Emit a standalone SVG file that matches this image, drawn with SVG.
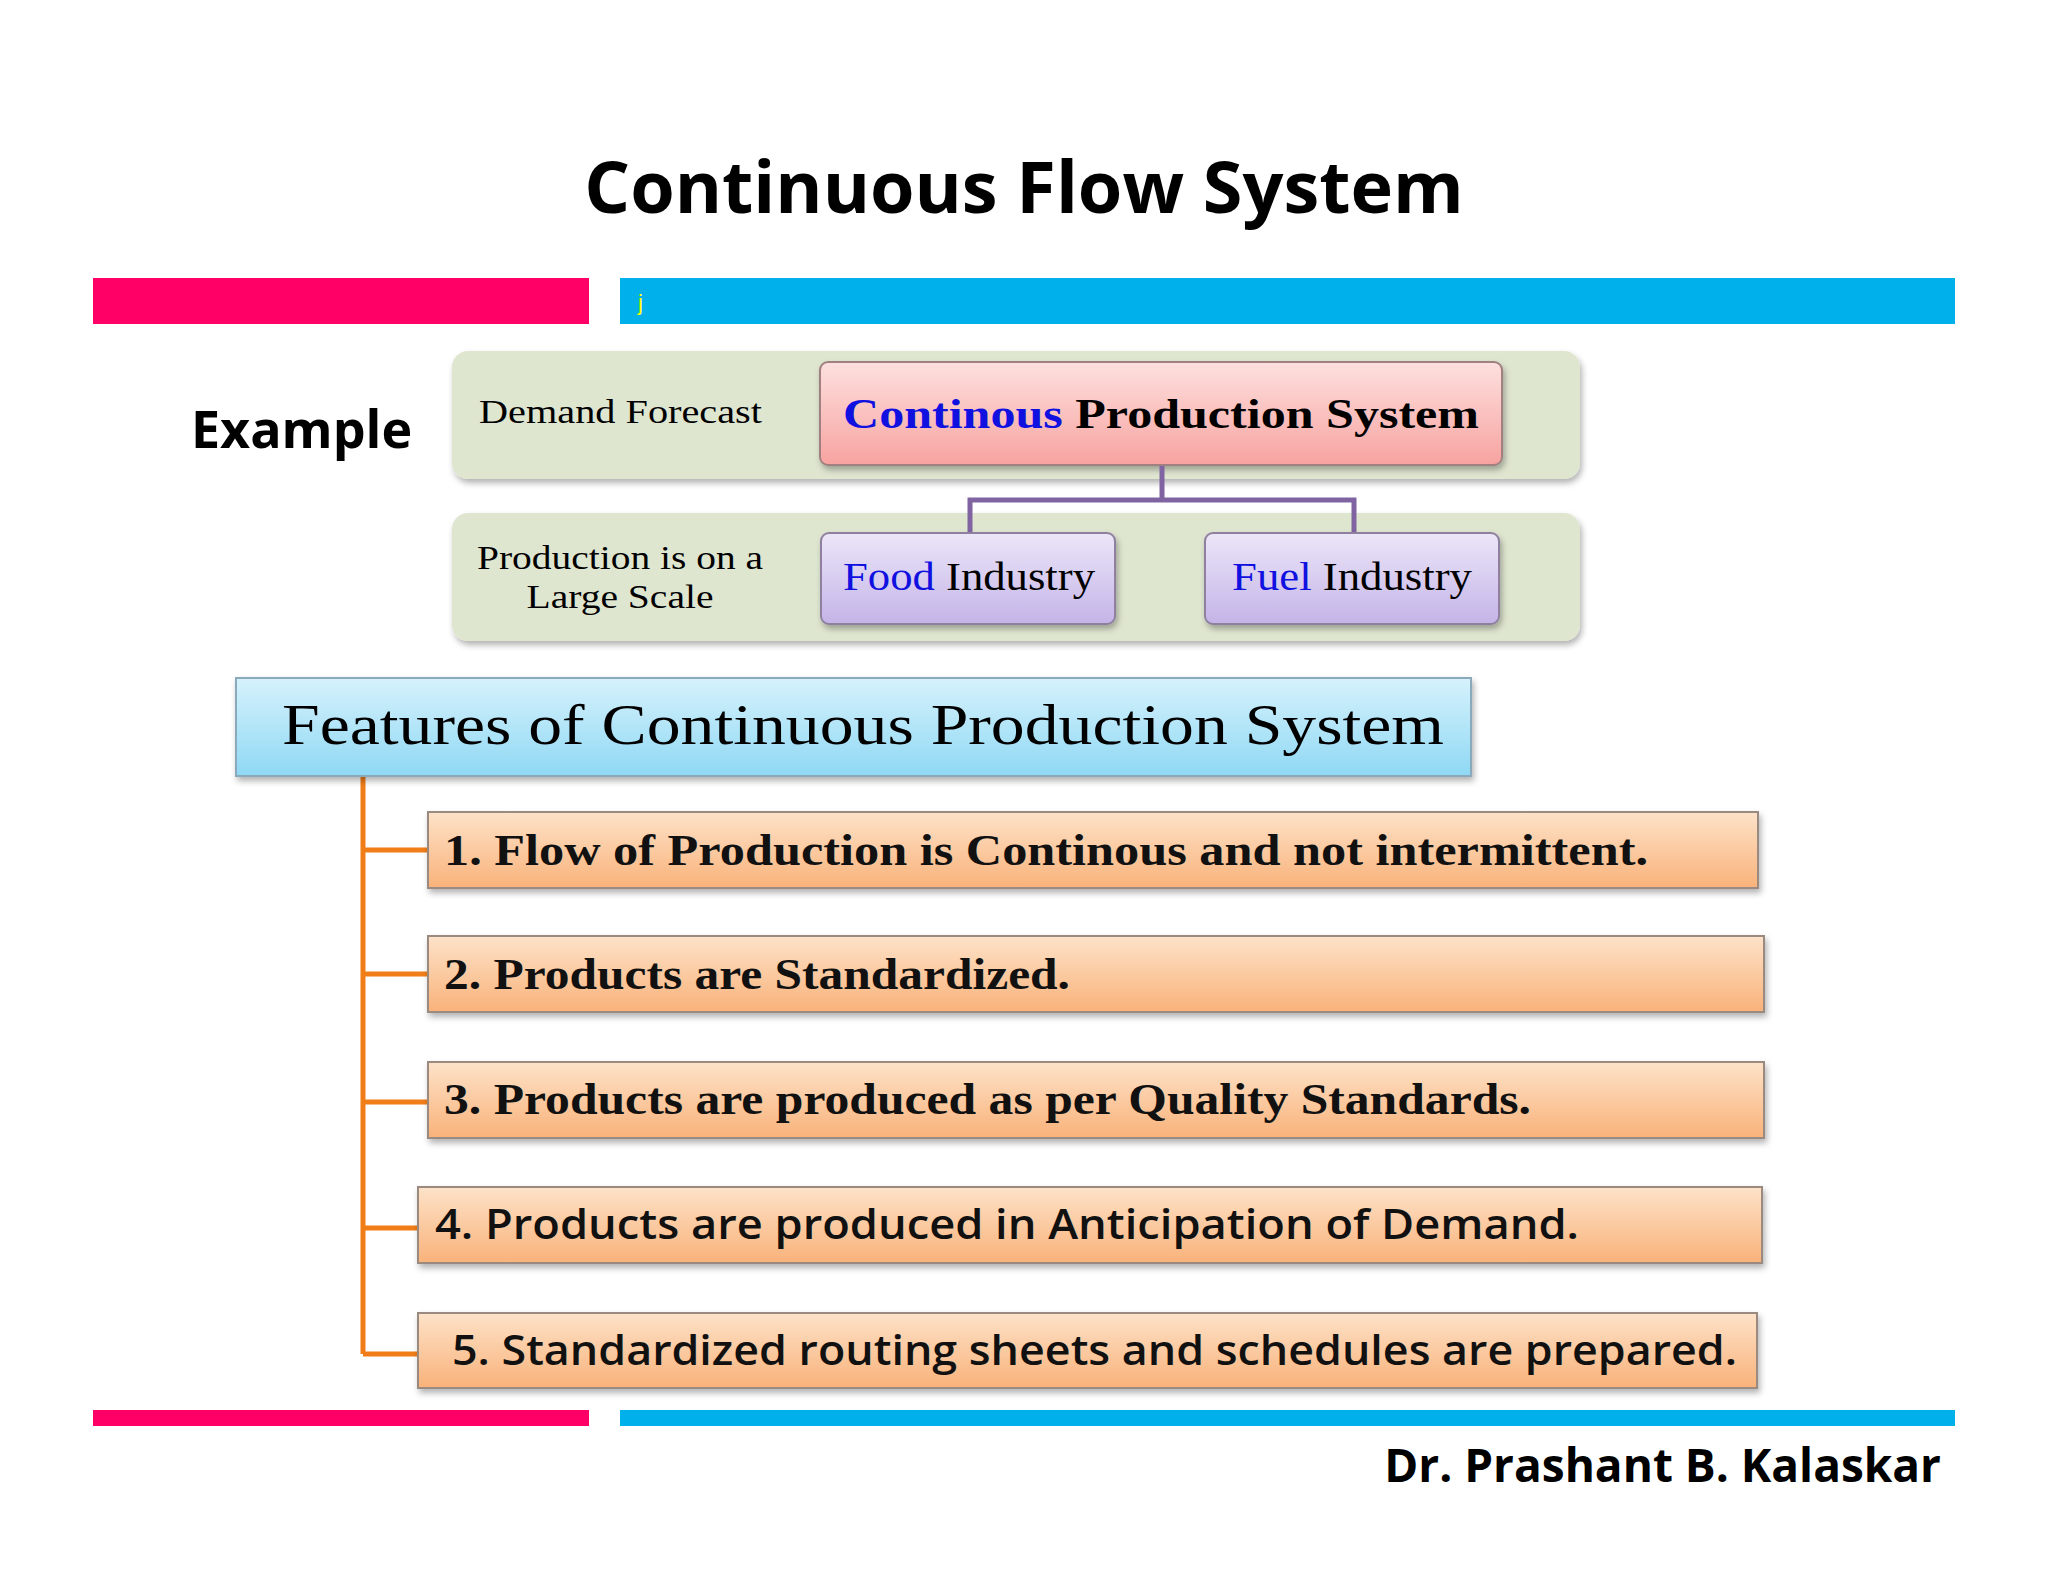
<svg xmlns="http://www.w3.org/2000/svg" width="2048" height="1582" viewBox="0 0 2048 1582">
<defs>
<linearGradient id="gPink" x1="0" y1="0" x2="0" y2="1"><stop offset="0" stop-color="#fde0de"/><stop offset="1" stop-color="#f7a3a0"/></linearGradient>
<linearGradient id="gPurp" x1="0" y1="0" x2="0" y2="1"><stop offset="0" stop-color="#ece6f8"/><stop offset="1" stop-color="#c4b4e8"/></linearGradient>
<linearGradient id="gBlue" x1="0" y1="0" x2="0" y2="1"><stop offset="0" stop-color="#d6f2fc"/><stop offset="1" stop-color="#8fd8f4"/></linearGradient>
<linearGradient id="gOr" x1="0" y1="0" x2="0" y2="1"><stop offset="0" stop-color="#fde2c8"/><stop offset="1" stop-color="#f9b27a"/></linearGradient>
<filter id="sh" x="-5%" y="-10%" width="110%" height="130%"><feDropShadow dx="2" dy="4" stdDeviation="3" flood-color="#000" flood-opacity="0.3"/></filter>
</defs>
<style>
.serif{font-family:"Liberation Serif","DejaVu Serif",serif;fill:#000}
.sans{font-family:"Open Sans","Liberation Sans",sans-serif;font-weight:bold;fill:#000}
.item{font-family:"Liberation Serif",serif;font-size:44px;font-weight:bold;fill:#111}
.item2{font-family:"Open Sans","Liberation Sans",sans-serif;font-size:42px;font-weight:600;fill:#111}
.obox{fill:url(#gOr);stroke:#9a8a80;stroke-width:2;filter:url(#sh)}
.conn{fill:none;stroke:#f07d18;stroke-width:5}
</style>
<rect width="2048" height="1582" fill="#fff"/>
<text class="sans" x="1024" y="213" font-size="72" text-anchor="middle">Continuous Flow System</text>
<rect x="93" y="278" width="496" height="46" fill="#ff0066"/>
<rect x="620" y="278" width="1335" height="46" fill="#00b0ea"/>
<text x="638" y="310" font-family="Liberation Sans,sans-serif" font-size="22" fill="#ffff00">j</text>
<rect x="93" y="1410" width="496" height="16" fill="#ff0066"/>
<rect x="620" y="1410" width="1335" height="16" fill="#00b0ea"/>
<text class="sans" x="191" y="448" font-size="52">Example</text>
<g id="row1"><rect x="452" y="351" width="1128" height="128" rx="16" fill="#dfe6d0" filter="url(#sh)"/>
<text class="serif" x="479" y="423" font-size="34" textLength="283" lengthAdjust="spacingAndGlyphs">Demand Forecast</text></g>
<g id="cps"><rect x="820" y="362" width="682" height="103" rx="8" fill="url(#gPink)" stroke="#a08080" stroke-width="2" filter="url(#sh)"/>
<text class="serif" x="843" y="428" font-size="43" font-weight="bold" textLength="636" lengthAdjust="spacingAndGlyphs"><tspan fill="#1010e0">Continous</tspan> Production System</text></g>
<g id="row2"><rect x="452" y="513" width="1128" height="128" rx="16" fill="#dfe6d0" filter="url(#sh)"/>
<text class="serif" x="620" y="569" font-size="34" text-anchor="middle" textLength="286" lengthAdjust="spacingAndGlyphs">Production is on a</text>
<text class="serif" x="620" y="608" font-size="34" text-anchor="middle" textLength="187" lengthAdjust="spacingAndGlyphs">Large Scale</text></g>
<g id="connectors">
<path d="M1162 466V500M970 533V500H1354V533" fill="none" stroke="#8064a2" stroke-width="5"/>
<path class="conn" d="M363 776V1354M363 850H428M363 974H428M363 1102H428M363 1228H418M363 1354H418"/>
</g>
<g id="food"><rect x="821" y="533" width="294" height="91" rx="8" fill="url(#gPurp)" stroke="#9080a0" stroke-width="2" filter="url(#sh)"/>
<text class="serif" x="843" y="590" font-size="40" textLength="252" lengthAdjust="spacingAndGlyphs"><tspan fill="#1010e0">Food</tspan> Industry</text></g>
<g id="fuel"><rect x="1205" y="533" width="294" height="91" rx="8" fill="url(#gPurp)" stroke="#9080a0" stroke-width="2" filter="url(#sh)"/>
<text class="serif" x="1232" y="590" font-size="40" textLength="240" lengthAdjust="spacingAndGlyphs"><tspan fill="#1010e0">Fuel</tspan> Industry</text></g>
<g id="features"><rect x="236" y="678" width="1235" height="98" fill="url(#gBlue)" stroke="#8aaabb" stroke-width="2" filter="url(#sh)"/>
<text class="serif" x="282" y="744" font-size="58" textLength="1162" lengthAdjust="spacingAndGlyphs">Features of Continuous Production System</text></g>
<g id="f1"><rect class="obox" x="428" y="812" width="1330" height="76"/><text class="item" x="444" y="865" textLength="1204" lengthAdjust="spacingAndGlyphs">1. Flow of Production is Continous and not intermittent.</text></g>
<g id="f2"><rect class="obox" x="428" y="936" width="1336" height="76"/><text class="item" x="444" y="989" textLength="626" lengthAdjust="spacingAndGlyphs">2. Products are Standardized.</text></g>
<g id="f3"><rect class="obox" x="428" y="1062" width="1336" height="76"/><text class="item" x="444" y="1114" textLength="1087" lengthAdjust="spacingAndGlyphs">3. Products are produced as per Quality Standards.</text></g>
<g id="f4"><rect class="obox" x="418" y="1187" width="1344" height="76"/><text class="item2" x="435" y="1239" textLength="1144" lengthAdjust="spacingAndGlyphs">4. Products are produced in Anticipation of Demand.</text></g>
<g id="f5"><rect class="obox" x="418" y="1313" width="1339" height="75"/><text class="item2" x="452" y="1365" textLength="1285" lengthAdjust="spacingAndGlyphs">5. Standardized routing sheets and schedules are prepared.</text></g>
<text class="sans" x="1941" y="1482" font-size="46" text-anchor="end">Dr. Prashant B. Kalaskar</text>
</svg>
